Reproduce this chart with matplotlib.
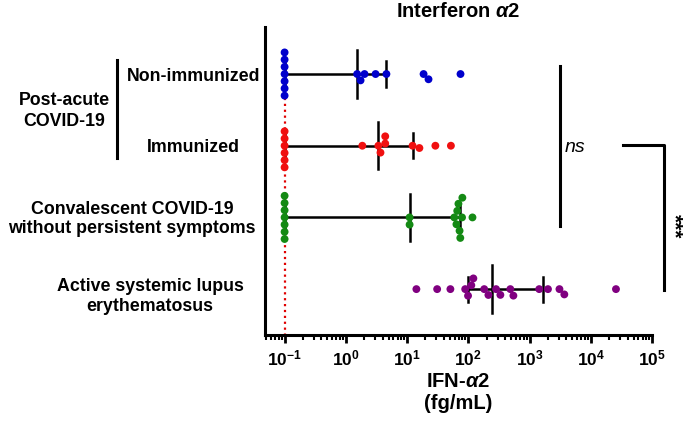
import numpy as np
import matplotlib
matplotlib.use("Agg")
import matplotlib.pyplot as plt
from matplotlib.ticker import LogLocator, FuncFormatter

plt.rcParams['font.family'] = ['Liberation Sans', 'DejaVu Sans']
plt.rcParams['font.weight'] = 'bold'
plt.rcParams['mathtext.fontset'] = 'custom'
plt.rcParams['mathtext.rm'] = 'Liberation Sans:bold'
plt.rcParams['mathtext.bf'] = 'Liberation Sans:bold'
plt.rcParams['mathtext.it'] = 'Liberation Sans:bold:italic'

# --- data (fg/mL) ---
groups = ["Non-immunized", "Immunized",
          "Convalescent COVID-19\nwithout persistent symptoms",
          "Active systemic lupus\nerythematosus"]
lod = 0.1

non_immunized = [0.1] * 7 + [1.53, 1.74, 2.02, 3.06, 4.6, 18.6, 22.4, 74.6]
immunized = [0.1] * 6 + [1.86, 3.4, 3.68, 4.4, 4.4, 12.3, 15.9, 29, 52]
convalescent = [0.1] * 7 + [11, 11, 59, 64, 66, 69, 72, 74, 79, 80, 117]
lupus = [14.2, 31, 51, 89, 99, 112, 121, 182, 213, 284, 334, 486, 545,
         1440, 2000, 3080, 3700, 25800]

medians = [1.53, 3.4, 11, 244]
q1 = [0.1, 0.1, 0.1, 99]
q3 = [4.6, 12.3, 72, 1630]

colors = ['#0000cc', '#f01010', '#148a14', '#800080']

# --- figure ---
fig = plt.figure(figsize=(6.85, 4.28), dpi=100)
ax = fig.add_axes([265 / 685, 1 - 335 / 428, 387 / 685, 308 / 428])
ax.set_xscale('log')
ax.set_xlim(10 ** -1.32, 1e5)
ax.set_ylim(3.64, -0.656)

for s in ['top', 'right']:
    ax.spines[s].set_visible(False)
for s in ['left', 'bottom']:
    ax.spines[s].set_linewidth(2.2)
ax.set_yticks([])
ax.xaxis.set_major_locator(LogLocator(base=10, numticks=10))
ax.xaxis.set_minor_locator(LogLocator(base=10, subs=np.arange(2, 10), numticks=20))
ax.xaxis.set_major_formatter(FuncFormatter(lambda v, p: r'$\mathbf{10^{%d}}$' % round(np.log10(v))))
ax.tick_params(axis='x', which='major', length=6, width=2, labelsize=12.5, pad=4)
ax.tick_params(axis='x', which='minor', length=3.5, width=1.5)


def swarm(vals, d=7.2):
    # simple beeswarm in pixel space, offsets in pixels
    xs = ax.transData.transform(np.c_[vals, np.zeros(len(vals))])[:, 0]
    placed, offs = [], []
    for x in xs:
        cands = [0.0]
        for px, py in placed:
            dx = x - px
            if abs(dx) < d:
                h = np.sqrt(d * d - dx * dx)
                cands += [py + h, py - h]
        cands.sort(key=abs)
        for c in cands:
            if all((x - px) ** 2 + (c - py) ** 2 >= d * d - 1e-6 for px, py in placed):
                break
        placed.append((x, c))
        offs.append(c)
    return np.array(offs)


px_per_unit = abs(ax.transData.transform([[1, 1]])[0, 1] - ax.transData.transform([[1, 0]])[0, 1])

# red dotted detection-limit line
ax.plot([lod, lod], [0.25, 3.64], color='#e00000', ls=':', lw=1.6, zorder=1)

for i, vals in enumerate([non_immunized, immunized, convalescent, lupus]):
    offs = swarm(vals) / px_per_unit
    # median + IQR
    ax.plot([q1[i], q3[i]], [i, i], color='black', lw=1.8, zorder=2)
    ax.plot([medians[i]] * 2, [i - 0.33, i + 0.33], color='black', lw=1.8, zorder=2)
    for q in (q1[i], q3[i]):
        ax.plot([q, q], [i - 0.175, i + 0.175], color='black', lw=1.8, zorder=2)
    ax.scatter(vals, i + offs, s=32, color=colors[i], edgecolors='none', zorder=3)

# significance annotations
ax.plot([10 ** 3.49] * 2, [-0.11, 2.12], color='black', lw=2.2, clip_on=False)
ax.text(10 ** 3.58, 1.02, 'ns', style='italic', fontweight='normal', fontsize=14,
        ha='left', va='center')
ax.plot([10 ** 4.52, 10 ** 5.2, 10 ** 5.2], [0.99, 0.99, 3.01], color='black', lw=2.2,
        clip_on=False)
ax.text(10 ** 5.36, 2.12, '***', rotation=270, fontsize=15, ha='center', va='center')

# group labels
fs = 12.8
yt = ax.get_yaxis_transform()
ax.text(-0.013, 0.04, groups[0], transform=yt, ha='right', va='center', fontsize=fs)
ax.text(-0.186, 1.02, groups[1], transform=yt, ha='center', va='center', fontsize=fs)
ax.text(-0.344, 2.02, groups[2], transform=yt, ha='center', va='center', fontsize=fs,
        multialignment='center')
ax.text(-0.297, 3.10, groups[3], transform=yt, ha='center', va='center', fontsize=fs,
        multialignment='center')
ax.text(-0.519, 0.52, 'Post-acute\nCOVID-19', transform=yt, ha='center', va='center',
        fontsize=fs, multialignment='center', linespacing=1.3)
ax.plot([-0.382, -0.382], [-0.195, 1.17], transform=yt, color='black', lw=2.2, clip_on=False)

ax.set_title(r'Interferon $\mathit{\alpha 2}$', fontsize=14.5, fontweight='bold', pad=7)
ax.text(0.5, -0.188, 'IFN-$\\mathit{\\alpha 2}$\n(fg/mL)', transform=ax.transAxes,
        ha='center', va='center', fontsize=14.5, multialignment='center')

fig.savefig('out.png', dpi=100)
